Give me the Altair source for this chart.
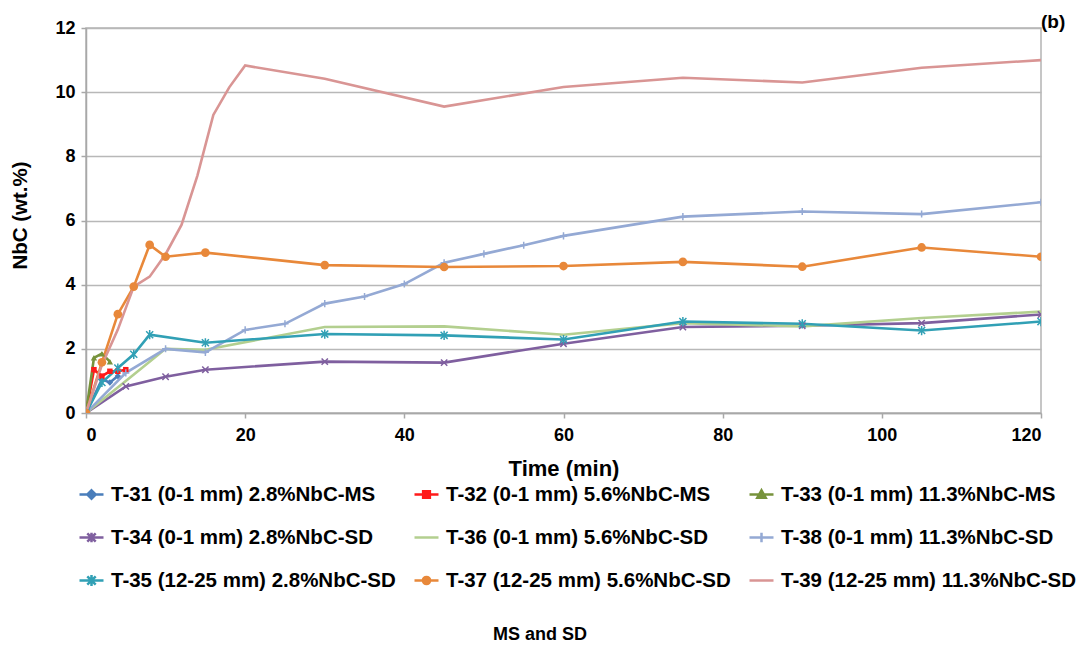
import altair as alt
import pandas as pd

series = [
    "T-31 (0-1 mm) 2.8%NbC-MS",
    "T-32 (0-1 mm) 5.6%NbC-MS",
    "T-33 (0-1 mm) 11.3%NbC-MS",
    "T-34 (0-1 mm) 2.8%NbC-SD",
    "T-36 (0-1 mm) 5.6%NbC-SD",
    "T-38 (0-1 mm) 11.3%NbC-SD",
    "T-35 (12-25 mm) 2.8%NbC-SD",
    "T-37 (12-25 mm) 5.6%NbC-SD",
    "T-39 (12-25 mm) 11.3%NbC-SD",
]
colors = ["#4a7ebb", "#ff1a1a", "#77933c", "#7f5f9f", "#b3cf8f",
          "#94a9d4", "#31a0b5", "#e8883a", "#d99594"]

t31_t = [0, 2, 3, 4]
t31_v = [0, 1.05, 0.95, 1.15]
t32_t = [0, 1, 2, 3, 4, 5]
t32_v = [0, 1.35, 1.15, 1.3, 1.3, 1.35]
t33_t = [0, 1, 2, 3]
t33_v = [0, 1.72, 1.85, 1.6]
t34_t = [0, 5, 10, 15, 30, 45, 60, 75, 90, 105, 120]
t34_v = [0, 0.83, 1.13, 1.35, 1.6, 1.57, 2.16, 2.68, 2.72, 2.8, 3.07]
t36_t = [0, 5, 10, 15, 30, 45, 60, 75, 90, 105, 120]
t36_v = [0, 1.0, 2.0, 1.97, 2.68, 2.7, 2.44, 2.8, 2.7, 2.96, 3.16]
t38_t = [0, 5, 10, 15, 20, 25, 30, 35, 40, 45, 50, 55, 60, 75, 90, 105, 120]
t38_v = [0, 1.25, 2.0, 1.89, 2.59, 2.78, 3.41, 3.63, 4.02, 4.68, 4.96, 5.23, 5.52, 6.12, 6.28, 6.2, 6.57]
t35_t = [0, 2, 4, 6, 8, 15, 30, 45, 60, 75, 90, 105, 120]
t35_v = [0, 0.95, 1.4, 1.83, 2.44, 2.19, 2.46, 2.42, 2.29, 2.85, 2.78, 2.57, 2.85]
t37_t = [0, 2, 4, 6, 8, 10, 15, 30, 45, 60, 75, 90, 105, 120]
t37_v = [0, 1.58, 3.08, 3.94, 5.24, 4.87, 5.0, 4.61, 4.55, 4.58, 4.71, 4.56, 5.16, 4.87]
t39_t = [0, 2, 4, 6, 8, 10, 12, 14, 16, 18, 20, 30, 45, 60, 75, 90, 105, 120]
t39_v = [0, 1.5, 2.6, 3.94, 4.25, 4.95, 5.86, 7.4, 9.29, 10.15, 10.83, 10.42, 9.55, 10.16, 10.45, 10.3, 10.76, 11.0]

all_t = [t31_t, t32_t, t33_t, t34_t, t36_t, t38_t, t35_t, t37_t, t39_t]
all_v = [t31_v, t32_v, t33_v, t34_v, t36_v, t38_v, t35_v, t37_v, t39_v]

rows = []
for s, ts, vs in zip(series, all_t, all_v):
    for t, v in zip(ts, vs):
        rows.append({"series": s, "t": t, "v": v})
df = pd.DataFrame(rows)

# plot markers per series: (shape, filled, size)
markers = {
    series[0]: ("diamond", True, 40),
    series[1]: ("square", True, 30),
    series[2]: ("triangle-up", True, 40),
    series[3]: ("M-1,-1L1,1M-1,1L1,-1", False, 40),
    series[5]: ("M0,-1L0,1M-1,0L1,0", False, 50),
    series[6]: ("M-1,-1L1,1M-1,1L1,-1M0,-1.3L0,1.3", False, 50),
    series[7]: ("circle", True, 75),
}

# legend symbols: line + marker
legend_paths = [
    "M-1,0L1,0M0,-0.35L0.35,0L0,0.35L-0.35,0ZM0,-0.15L0.15,0L0,0.15L-0.15,0Z",
    "M-1,0L1,0M-0.28,-0.28L0.28,-0.28L0.28,0.28L-0.28,0.28ZM-0.1,-0.1L0.1,-0.1L0.1,0.1L-0.1,0.1Z",
    "M-1,0L1,0M0,-0.35L0.35,0.28L-0.35,0.28ZM0,-0.1L0.12,0.15L-0.12,0.15Z",
    "M-1,0L1,0M-0.35,-0.35L0.35,0.35M-0.35,0.35L0.35,-0.35M0,-0.4L0,0.4",
    "M-1,0L1,0",
    "M-1,0L1,0M0,-0.4L0,0.4",
    "M-1,0L1,0M-0.35,-0.35L0.35,0.35M-0.35,0.35L0.35,-0.35M0,-0.45L0,0.45",
    "M-1,0L1,0M-0.3,0A0.3,0.3,0,1,0,0.3,0A0.3,0.3,0,1,0,-0.3,0ZM-0.12,0A0.12,0.12,0,1,0,0.12,0A0.12,0.12,0,1,0,-0.12,0Z",
    "M-1,0L1,0",
]

# legend is filled column by column: reorder so rows read as in the original
leg_idx = [0, 3, 6, 1, 4, 7, 2, 5, 8]
dom = [series[i] for i in leg_idx]
col_rng = [colors[i] for i in leg_idx]
shp_rng = [legend_paths[i] for i in leg_idx]

FONT = "Liberation Sans"

cscale = alt.Scale(domain=dom, range=col_rng)
leg = alt.Legend(
    title=None, orient="none", legendX=-8, legendY=453, columns=3,
    columnPadding=13, rowPadding=19, labelFont=FONT, labelFontWeight="bold",
    labelFontSize=20.5, labelColor="black", symbolSize=576, symbolStrokeWidth=2.5,
    labelOffset=6, labelLimit=500,
)

xenc = alt.X("t:Q", scale=alt.Scale(domain=[0, 120], nice=False, zero=False),
             axis=alt.Axis(values=[0, 20, 40, 60, 80, 100, 120], grid=False,
                           title="Time (min)", titleFontSize=22, titleX=477.5,
                           titleY=55, titleBaseline="middle", labelPadding=8,
                           tickSize=5))
yenc = alt.Y("v:Q", scale=alt.Scale(domain=[0, 12], nice=False),
             axis=alt.Axis(values=[0, 2, 4, 6, 8, 10, 12], grid=True,
                           title="NbC (wt.%)", titleFontSize=20.5, titleX=-66,
                           titleY=187, titleAngle=-90, titleAlign="center",
                           titleBaseline="middle", labelPadding=6, tickSize=5))

lines = alt.Chart(df).mark_line(strokeWidth=2.6, clip=True).encode(
    x=xenc, y=yenc,
    color=alt.Color("series:N", scale=cscale, legend=leg, sort=dom),
    order=alt.Order("t:Q"),
)

layers = [lines]
for s, (shp, filled, size) in markers.items():
    layers.append(
        alt.Chart(df).transform_filter(alt.datum.series == s)
        .mark_point(shape=shp, filled=filled, size=size, strokeWidth=1.5,
                    opacity=1, clip=True)
        .encode(x=xenc, y=yenc,
                color=alt.Color("series:N", scale=cscale, legend=leg, sort=dom))
    )

leg_df = pd.DataFrame({"series": series, "t": [-50] * 9, "v": [-50] * 9})
legend_layer = alt.Chart(leg_df).mark_point(
    filled=False, size=576, strokeWidth=2.5, opacity=1, clip=True
).encode(
    x=xenc, y=yenc,
    color=alt.Color("series:N", scale=cscale, legend=leg, sort=dom),
    shape=alt.Shape("series:N", scale=alt.Scale(domain=dom, range=shp_rng),
                    legend=leg, sort=dom),
)
layers.append(legend_layer)

b_lab = alt.Chart(pd.DataFrame({"txt": ["(b)"]})).mark_text(
    font=FONT, fontWeight="bold", fontSize=19, align="left", baseline="middle",
    color="black").encode(x=alt.value(955), y=alt.value(-6), text="txt:N")
ms_lab = alt.Chart(pd.DataFrame({"txt": ["MS and SD"]})).mark_text(
    font=FONT, fontWeight="bold", fontSize=18, align="center", baseline="middle",
    color="black").encode(x=alt.value(454), y=alt.value(222 + 385), text="txt:N")
layers += [b_lab, ms_lab]

chart = alt.layer(*layers).properties(
    width=955, height=385,
    padding={"left": 86, "top": 28, "right": 41, "bottom": 237},
    autosize=alt.AutoSizeParams(type="none"),
).configure_view(
    stroke="#b4b4b4", strokeWidth=1.5
).configure_axis(
    labelFont=FONT, labelFontWeight="bold", labelFontSize=18, labelColor="black",
    titleFont=FONT, titleFontWeight="bold", titleColor="black",
    domainColor="#a8a8a8", domainWidth=1.5, tickColor="#a8a8a8", tickWidth=1.5,
    gridColor="#b8b8b8", gridWidth=1.3,
)

chart.save("out.html", embed_options={"renderer": "svg", "actions": False})
